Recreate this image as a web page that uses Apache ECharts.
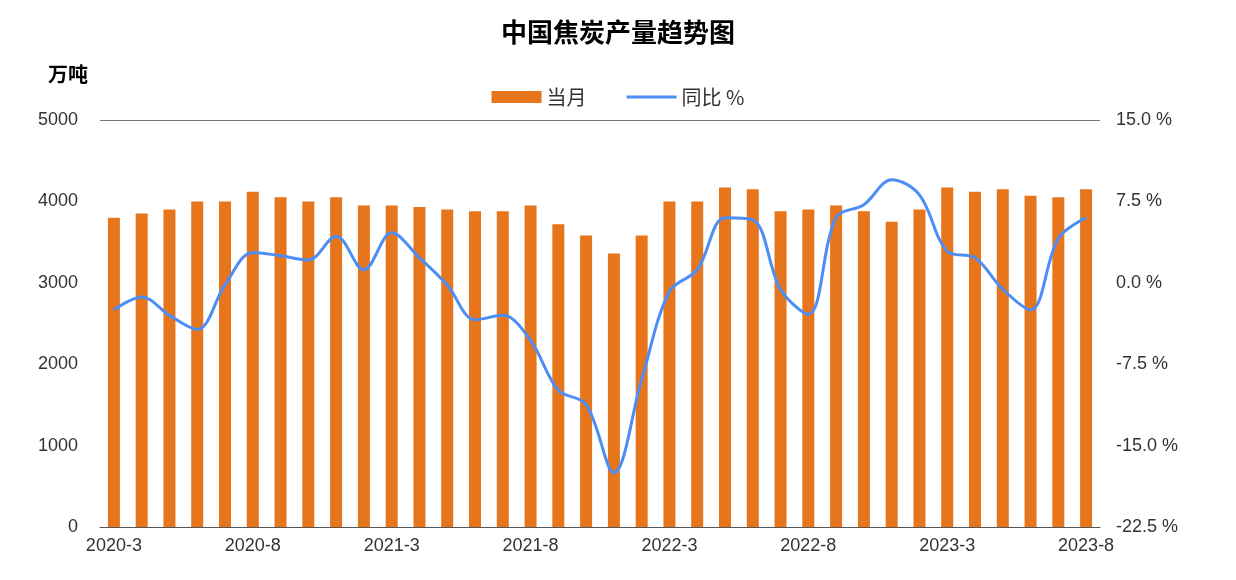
<!DOCTYPE html>
<html><head><meta charset="utf-8">
<script src="https://cdn.jsdelivr.net/npm/echarts@6/dist/echarts.min.js"></script>
<style>html,body{margin:0;padding:0;background:#fff}#c{width:1236px;height:580px}</style>
</head><body><div id="c"></div>
<script>
const categories = [];
const years = [2020, 2021, 2022, 2023];
years.forEach(y => { const end = y === 2023 ? 8 : 12; for (let m = 3; m <= end; m++) categories.push(y + '-' + m); });
const monthly = [3800,3850,3900,4000,4000,4120,4050,4000,4050,3950,
                 3950,3930,3900,3880,3880,3950,3720,3580,3360,3580,
                 4000,4000,4170,4150,3880,3900,3950,3880,3750,3900,
                 4170,4120,4150,4070,4050,4150];
const yoy = [-2.5,-1.3,-3,-4.3,-0.2,2.8,2.5,2.1,4.3,1.2,
             4.6,2.3,-0.2,-3.4,-3,-5.3,-9.9,-11.2,-17.5,-8.9,
             -0.8,1.2,6,5.8,-0.6,-2.9,6,7.2,9.5,8.1,
             2.9,2.3,-0.6,-2.5,4.1,6];
const font = 'Liberation Sans, DejaVu Sans, sans-serif';
const chart = echarts.init(document.getElementById('c'));
chart.setOption({
  animation: false,
  title: { text: '中国焦炭产量趋势图', left: 'center', top: 14,
    textStyle: { fontSize: 26, fontWeight: 'bold', color: '#000', fontFamily: 'Noto Sans CJK SC' } },
  legend: { top: 82, left: 'center', itemGap: 40, itemWidth: 50, itemHeight: 12,
    textStyle: { fontSize: 20, color: '#333', fontFamily: 'Noto Sans CJK SC' },
    data: [{ name: '当月', icon: 'rect' }, { name: '同比 %', icon: 'path://M0,0 L50,0 L50,3 L0,3 Z', itemStyle: { color: '#4C8DF6' } }] },
  grid: { left: 100, right: 136, top: 120, bottom: 53 },
  xAxis: { type: 'category', data: categories,
    axisLine: { lineStyle: { color: '#555' } },
    axisTick: { interval: 4, lineStyle: { color: '#555' } },
    axisLabel: { interval: 4, fontSize: 18, color: '#333', fontFamily: font, margin: 10 } },
  yAxis: [
    { type: 'value', min: 0, max: 5000, interval: 1000,
      name: '万吨', nameLocation: 'end', nameGap: 36,
      nameTextStyle: { fontSize: 20, fontWeight: 'bold', color: '#000', fontFamily: 'Noto Sans CJK SC', align: 'right', padding: [0, 12, 0, 0] },
      axisLabel: { fontSize: 18, color: '#333', fontFamily: font, margin: 22, formatter: v => String(v) },
      axisLine: { show: false }, axisTick: { show: false },
      splitLine: { lineStyle: { color: ['transparent','transparent','transparent','transparent','transparent','#777'] } } },
    { type: 'value', min: -22.5, max: 15, interval: 7.5,
      axisLabel: { fontSize: 18, color: '#333', fontFamily: font, margin: 16,
        formatter: v => v.toFixed(1) + ' %' },
      axisLine: { show: false }, axisTick: { show: false }, splitLine: { show: false } }
  ],
  series: [
    { name: '当月', type: 'bar', data: monthly, barWidth: 12, itemStyle: { color: '#E6751C' } },
    { name: '同比 %', type: 'line', yAxisIndex: 1, data: yoy, smooth: 0.35, symbol: 'none',
      lineStyle: { color: '#4C8DF6', width: 3 }, itemStyle: { color: '#4C8DF6' } }
  ]
});
</script></body></html>
